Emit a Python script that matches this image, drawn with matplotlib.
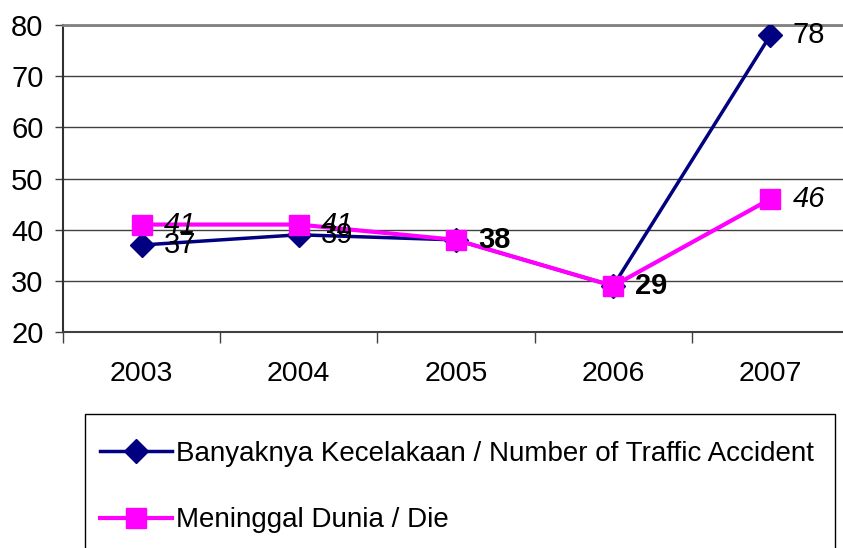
import matplotlib.pyplot as plt
from matplotlib.patches import Rectangle

plt.rcParams['font.family'] = ['Liberation Sans', 'DejaVu Sans']

years = ['2003', '2004', '2005', '2006', '2007']
accidents = [37, 39, 38, 29, 78]
deaths = [41, 41, 38, 29, 46]

lbl_accidents = 'Banyaknya Kecelakaan / Number of Traffic Accident'
lbl_deaths = 'Meninggal Dunia / Die'

W, H = 843, 548
fig = plt.figure(figsize=(W / 100, H / 100), dpi=100)
ax = fig.add_axes([63 / W, 1 - 332 / H, 786 / W, 307 / H])

x = range(len(years))
ax.plot(x, accidents, color='#000080', lw=2.5, marker='D', ms=12,
        label=lbl_accidents, zorder=3)
ax.plot(x, deaths, color='#ff00ff', lw=3, marker='s', ms=14,
        label=lbl_deaths, zorder=4)

# data labels: blue upright, pink italic, bold where both coincide
off = (16, 0)
for i in x:
    a, d = accidents[i], deaths[i]
    if a == d:
        ax.annotate(str(a), (i, a), xytext=off, textcoords='offset points',
                    ha='left', va='center', fontsize=21, fontweight='bold', zorder=5)
    else:
        ax.annotate(str(a), (i, a), xytext=off, textcoords='offset points',
                    ha='left', va='center', fontsize=21, zorder=5)
        ax.annotate(str(d), (i, d), xytext=off, textcoords='offset points',
                    ha='left', va='center', fontsize=21, style='italic', zorder=5)

ax.set_xlim(-0.5, len(years) - 0.5)
ax.set_ylim(20, 80)
ax.set_yticks(range(20, 81, 10))
ax.set_xticks(list(x))
ax.set_xticklabels(years)
ax.set_xticks([i - 0.5 for i in range(len(years) + 1)], minor=True)
ax.tick_params(axis='x', which='major', length=0, pad=21, labelsize=20.5)
ax.tick_params(axis='x', which='minor', length=8, width=1, color='#404040', direction='out')
ax.tick_params(axis='y', length=6, width=1, color='#404040', pad=8, labelsize=21)

ax.yaxis.grid(True, color='#404040', lw=1)
ax.set_axisbelow(True)
ax.spines['right'].set_visible(False)
ax.spines['top'].set_color('#808080')
ax.spines['top'].set_linewidth(2)
ax.spines['left'].set_color('#303030')
ax.spines['left'].set_linewidth(1.5)
ax.spines['bottom'].set_color('#404040')
ax.spines['bottom'].set_linewidth(1.5)

# legend box runs past the bottom of the figure
fig.patches.append(Rectangle((85 / W, -0.05), 750 / W, 0.05 + (1 - 414 / H),
                             transform=fig.transFigure, fill=False,
                             edgecolor='black', lw=1))
fig.legend(loc='upper left', bbox_to_anchor=(89 / W, 1 - 430 / H),
           frameon=False, fontsize=20, handlelength=2.6, handletextpad=0.15,
           labelspacing=1.45, borderaxespad=0)

fig.savefig('out.png', dpi=100)
